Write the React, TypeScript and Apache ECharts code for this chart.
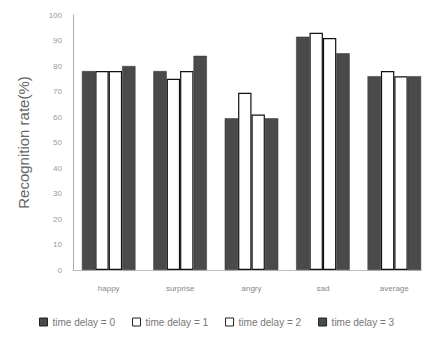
import React, { useEffect, useRef } from "react";
import * as echarts from "echarts";

const categories = ["happy", "surprise", "angry", "sad", "average"];
const seriesNames = ["time delay = 0", "time delay = 1", "time delay = 2", "time delay = 3"];
const delay0 = [78, 78, 59.5, 91.5, 76];
const delay1 = [78, 75, 69.5, 93, 78];
const delay2 = [78, 78, 61, 91, 76];
const delay3 = [80, 84, 59.5, 85, 76];
const yTicks = [0, 10, 20, 30, 40, 50, 60, 70, 80, 90, 100];

export default function App() {
  const ref = useRef<HTMLDivElement>(null);
  useEffect(() => {
    if (!ref.current) return;
    const chart = echarts.init(ref.current, null, { renderer: "svg" });
    const font = "Liberation Sans, Arial, sans-serif";
    const dark = "#4a4a4a";
    const datasets = [delay0, delay1, delay2, delay3];
    const styles = [
      { color: dark, borderColor: "#333", borderWidth: 0.5 },
      { color: "#ffffff", borderColor: "#111", borderWidth: 1.2 },
      { color: "#ffffff", borderColor: "#111", borderWidth: 1.2 },
      { color: dark, borderColor: "#333", borderWidth: 0.5 },
    ];
    chart.setOption({
      animation: false,
      backgroundColor: "#ffffff",
      textStyle: { fontFamily: font },
      legend: {
        bottom: 8,
        left: 34,
        icon: "rect",
        itemWidth: 8,
        itemHeight: 8,
        itemGap: 17,
        textStyle: { fontSize: 10, color: "#777", fontFamily: font },
        data: seriesNames.map((n, i) => ({
          name: n,
          itemStyle: { color: styles[i].color, borderColor: "#222", borderWidth: 1 },
        })),
      },
      grid: { left: 73, top: 15, width: 360, height: 255, containLabel: false },
      xAxis: {
        type: "category",
        data: categories,
        axisLine: { lineStyle: { color: "#bbb", width: 1 } },
        axisTick: { show: false },
        axisLabel: { fontSize: 8, color: "#888", margin: 14, fontFamily: font },
      },
      yAxis: {
        type: "value",
        min: yTicks[0],
        max: yTicks[yTicks.length - 1],
        interval: 10,
        name: "Recognition rate(%)",
        nameLocation: "middle",
        nameGap: 42,
        nameTextStyle: { fontSize: 15, color: "#666", fontFamily: font },
        axisLine: { show: true, lineStyle: { color: "#aaa", width: 1 } },
        axisTick: { show: false },
        splitLine: { show: false },
        axisLabel: { fontSize: 8, color: "#999", margin: 11, fontFamily: font },
      },
      series: datasets.map((d, i) => ({
        name: seriesNames[i],
        type: "bar",
        data: d,
        barGap: "0%",
        barCategoryGap: "25%",
        itemStyle: styles[i],
      })),
    });
    return () => chart.dispose();
  }, []);
  return <div ref={ref} style={{ width: 430, height: 340, margin: -8 }} />;
}
